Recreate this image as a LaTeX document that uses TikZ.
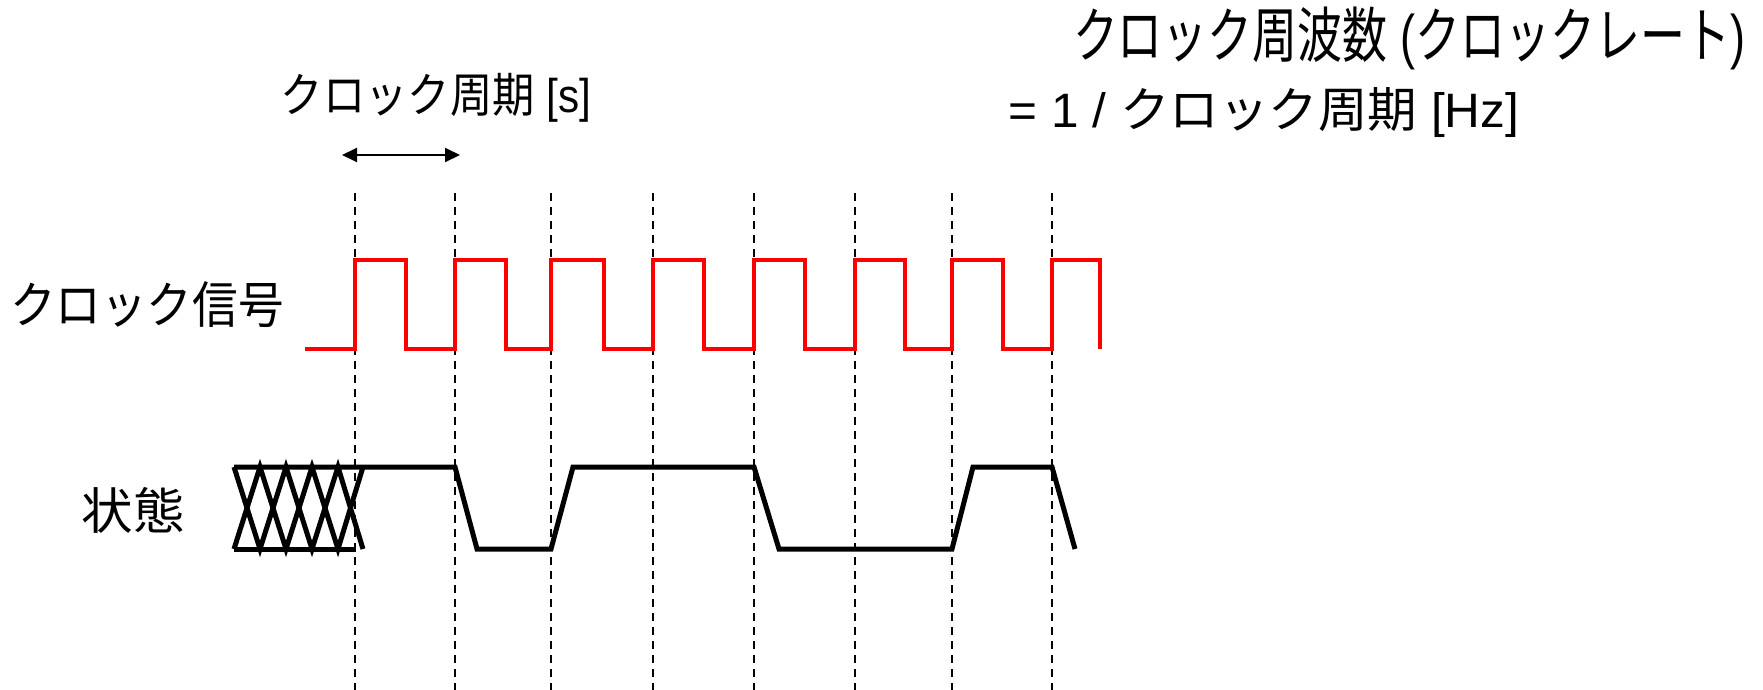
\documentclass[tikz,border=0pt]{standalone}
\usepackage{fontspec}
\usepackage{graphicx}
\setmainfont{Liberation Sans}
\newfontfamily\cjk{Noto Sans CJK JP}
\usetikzlibrary{arrows.meta}
\newcommand{\fitto}[3]{\resizebox*{#1pt}{#2pt}{#3}}
\tikzset{
  txt/.style={inner sep=0pt, outer sep=0pt},
  vguide/.style={line width=1.6pt, dash pattern=on 8pt off 6pt, black},
  clk/.style={line width=4pt, red, line join=miter},
  state/.style={line width=5pt, black, line join=miter},
  dimarrow/.style={line width=2pt, {Triangle[length=15pt,width=14pt]}-{Triangle[length=15pt,width=14pt]}}
}
\begin{document}
\begin{tikzpicture}[x=1pt,y=-1pt]
\useasboundingbox[fill=white] (0,0) rectangle (1763,690);
% texts
\node[txt] (period) at (436,97.5) {\fitto{310}{49}{{\cjk クロック周期} [s]}};
\node[txt] (freq1) at (1409,38.5) {\fitto{672}{63}{{\cjk クロック周波数} ({\cjk クロックレート})}};
\node[txt] (freq2) at (1264,113) {\fitto{510}{50}{= 1 / {\cjk クロック周期} [Hz]}};
\node[txt] (clklab) at (147,305) {\fitto{274}{46}{\cjk クロック信号}};
\node[txt] (statelab) at (133,510.5) {\fitto{103}{46}{\cjk 状態}};
% dashed guides
\foreach \x in {355,455,551,653,754,855,952,1052}
  \draw[vguide] (\x,193) -- (\x,690);
% period arrow
\coordinate (pa) at (342,155);
\coordinate (pb) at (460,155);
\draw[dimarrow] (pa) -- (pb);
% clock
\draw[clk] (305,349) -| (355,260) -| (406,349) -| (455,260) -| (506,349)
  -| (551,260) -| (604,349) -| (653,260) -| (704,349) -| (754,260)
  -| (805,349) -| (855,260) -| (905,349) -| (952,260) -| (1003,349)
  -| (1052,260) -| (1100,349);
% state: unknown region
\draw[state] (234,467) -- (260,549) -- (286,467) -- (312,549) -- (338,467) -- (363,549);
\draw[state] (234,549) -- (260,467) -- (286,549) -- (312,467) -- (338,549) -- (363,467);
\draw[state] (234,549) -- (356,549);
% state: known values
\draw[state] (234,467) -- (455,467) -- (477,549) -- (551,549) -- (573,467)
  -- (754,467) -- (779,549) -- (952,549) -- (973,467) -- (1052,467) -- (1075,549);
\end{tikzpicture}
\end{document}
